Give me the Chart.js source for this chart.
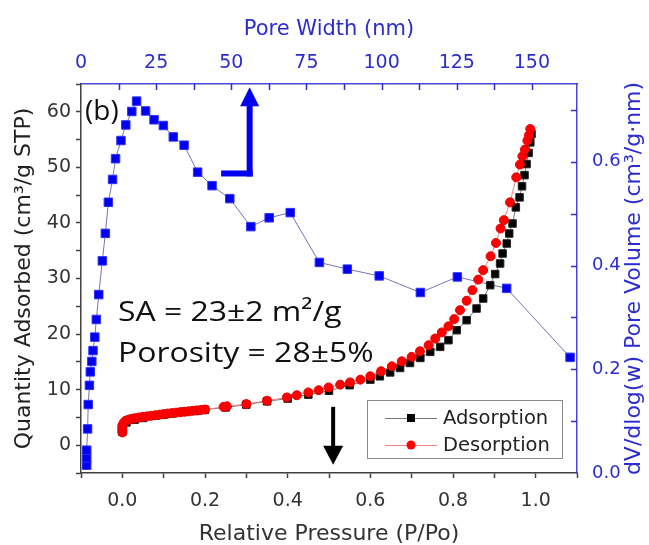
<!DOCTYPE html>
<html>
<head>
<meta charset="utf-8">
<script src="https://cdn.jsdelivr.net/npm/chart.js@4.4.1/dist/chart.umd.min.js"></script>
<style>
  html, body { margin: 0; padding: 0; background: #fff; }
  #wrap { width: 649px; height: 545px; }
</style>
</head>
<body>
<div id="wrap"><canvas id="isotherm" width="649" height="545"></canvas></div>
<script>
// Adsorption branch: relative pressure (P/Po) and quantity adsorbed (cm3/g STP)
const adsP = [0.0, 0.01, 0.03, 0.05, 0.08, 0.10, 0.12, 0.15, 0.18, 0.20, 0.25, 0.30, 0.35, 0.40,
  0.45, 0.50, 0.55, 0.60, 0.623, 0.648, 0.672, 0.696, 0.721, 0.745, 0.769, 0.789, 0.809,
  0.833, 0.857, 0.873, 0.890, 0.902, 0.914, 0.920, 0.930, 0.936, 0.944, 0.952, 0.961,
  0.967, 0.973, 0.978, 0.983, 0.987, 0.990];
const adsQ = [2.4, 4.1, 4.6, 4.9, 5.3, 5.5, 5.7, 6.0, 6.2, 6.4, 6.8, 7.3, 7.9, 8.4,
  9.1, 9.8, 10.8, 11.8, 12.4, 13.1, 13.9, 14.8, 15.7, 16.8, 17.7, 18.9, 20.7,
  22.5, 24.6, 26.4, 28.8, 30.8, 32.7, 34.5, 36.3, 38.1, 39.9, 42.8, 44.6,
  46.6, 48.6, 50.6, 52.6, 54.5, 56.0];

// Desorption branch
const desP = [0.0, 0.0, 0.0, 0.0, 0.003, 0.008, 0.015, 0.022, 0.03, 0.04, 0.05, 0.06, 0.07,
  0.08, 0.09, 0.10, 0.11, 0.12, 0.13, 0.14, 0.15, 0.16, 0.17, 0.18, 0.19, 0.20, 0.245,
  0.253, 0.30, 0.35, 0.398, 0.422, 0.45, 0.475, 0.499, 0.527, 0.551, 0.576, 0.60, 0.626,
  0.652, 0.676, 0.70, 0.72, 0.741, 0.757, 0.773, 0.789, 0.803, 0.817, 0.833, 0.847,
  0.861, 0.873, 0.891, 0.904, 0.915, 0.923, 0.938, 0.953, 0.962, 0.968, 0.974, 0.98,
  0.984, 0.987];
const desQ = [2.3, 2.7, 3.1, 3.5, 4.0, 4.4, 4.6, 4.75, 4.85, 5.0, 5.1, 5.2, 5.3,
  5.4, 5.5, 5.6, 5.7, 5.78, 5.86, 5.95, 6.02, 6.1, 6.18, 6.26, 6.34, 6.42, 6.9,
  7.0, 7.4, 8.0, 8.6, 9.0, 9.5, 9.9, 10.4, 10.9, 11.3, 11.8, 12.4, 13.3,
  14.2, 15.1, 15.9, 16.9, 18.0, 19.2, 20.3, 21.4, 22.7, 24.3, 26.0, 27.9,
  29.8, 31.5, 34.0, 36.4, 39.0, 40.5, 43.7, 48.2, 50.5, 52.0, 53.2, 54.8,
  55.8, 56.9];

// Pore size distribution: pore width (nm) and dV/dlog(w) pore volume (cm3/g.nm)
const poreWidth = [1.9, 1.9, 1.9, 2.2, 2.4, 2.8, 3.1, 3.6, 4.0, 4.6, 5.1, 5.9, 7.1, 8.1,
  9.1, 10.5, 11.5, 13.3, 14.9, 16.9, 18.5, 21.5, 24.3, 27.4, 30.7, 34.3, 38.8, 43.6,
  49.5, 56.5, 62.6, 69.6, 79.3, 88.6, 99.2, 112.9, 125.2, 141.6, 162.7];
const poreVolume = [0.015, 0.029, 0.044, 0.085, 0.132, 0.169, 0.195, 0.215, 0.236, 0.262,
  0.296, 0.344, 0.409, 0.462, 0.522, 0.566, 0.606, 0.641, 0.671, 0.697, 0.717, 0.698,
  0.681, 0.670, 0.648, 0.632, 0.580, 0.554, 0.529, 0.475, 0.492, 0.502, 0.406, 0.393,
  0.380, 0.348, 0.378, 0.356, 0.223];

const legendLabels = ['Adsorption', 'Desorption'];
const panelTag = '(b)';
const noteLines = ['SA = 23\u00b12 m\u00b2/g', 'Porosity = 28\u00b15%'];

// arrows, in bottom/left axis units
const blueArrow = { x: 0.308, xFrom: 0.239, yCorner: 48.9, yTip: 64.4 };
const blackArrow = { x: 0.51, yFrom: 6.9, yTip: -3.5 };

const BLUE = '#2c2cd0';
const AXIS_GREY = '#404040';

Chart.defaults.font.family = '"DejaVu Sans", sans-serif';

function pts(xs, ys) {
  return xs.map((x, i) => ({ x: x, y: ys[i] }));
}

const decorations = {
  id: 'decorations',
  afterDraw(chart) {
    const { ctx, chartArea: ca, scales } = chart;
    const sx = scales.x, sy = scales.y;
    ctx.save();

    // inward ticks on the top and right axes
    ctx.strokeStyle = BLUE;
    ctx.lineWidth = 1.5;
    scales.x2.ticks.forEach(t => {
      const px = Math.round(scales.x2.getPixelForValue(t.value)) + 0.5;
      if (px < ca.left + 2 || px > ca.right - 2) return;
      ctx.beginPath();
      ctx.moveTo(px, ca.top);
      ctx.lineTo(px, ca.top + 6);
      ctx.stroke();
    });
    scales.y2.ticks.forEach(t => {
      const py = Math.round(scales.y2.getPixelForValue(t.value)) + 0.5;
      if (py < ca.top + 2 || py > ca.bottom - 2) return;
      ctx.beginPath();
      ctx.moveTo(ca.right, py);
      ctx.lineTo(ca.right - 6, py);
      ctx.stroke();
    });

    // blue arrow pointing to the top axis
    const bx = sx.getPixelForValue(blueArrow.x);
    const bx0 = sx.getPixelForValue(blueArrow.xFrom);
    const by = sy.getPixelForValue(blueArrow.yCorner);
    const btip = sy.getPixelForValue(blueArrow.yTip);
    ctx.fillStyle = '#0000ee';
    ctx.fillRect(bx0, by - 3, bx - bx0 + 3, 6);
    ctx.fillRect(bx - 3, btip + 18, 6, by - btip - 18 + 3);
    ctx.beginPath();
    ctx.moveTo(bx, btip);
    ctx.lineTo(bx - 9.5, btip + 19);
    ctx.lineTo(bx + 9.5, btip + 19);
    ctx.closePath();
    ctx.fill();

    // black arrow pointing to the bottom axis
    const kx = sx.getPixelForValue(blackArrow.x);
    const ky0 = sy.getPixelForValue(blackArrow.yFrom);
    const ktip = sy.getPixelForValue(blackArrow.yTip);
    ctx.fillStyle = '#000';
    ctx.fillRect(kx - 2, ky0, 4, ktip - ky0 - 17);
    ctx.beginPath();
    ctx.moveTo(kx, ktip);
    ctx.lineTo(kx - 10, ktip - 19);
    ctx.lineTo(kx + 10, ktip - 19);
    ctx.closePath();
    ctx.fill();

    // panel tag and notes
    ctx.fillStyle = '#111';
    ctx.textBaseline = 'alphabetic';
    ctx.textAlign = 'left';
    ctx.font = '28px "Open Sans"';
    ctx.fillText(panelTag, ca.left + 4, ca.top + 36);
    ctx.font = '28px "Open Sans"';
    [321, 362].forEach((y, i) => {
      ctx.save();
      ctx.translate(ca.left + 37, y);
      ctx.scale(1.14, 1);
      ctx.fillText(noteLines[i], 0, 0);
      ctx.restore();
    });

    // legend
    const lx = ca.right - 210, ly = ca.bottom - 73, lw = 195, lh = 58;
    ctx.fillStyle = '#fff';
    ctx.fillRect(lx, ly, lw, lh);
    ctx.strokeStyle = '#8a8a8a';
    ctx.lineWidth = 1;
    ctx.strokeRect(lx + 0.5, ly + 0.5, lw, lh);
    const rows = [
      { y: ly + 18, line: '#777', fill: '#000', shape: 'rect' },
      { y: ly + 45, line: '#f08080', fill: '#f00', shape: 'circle' }
    ];
    rows.forEach((r, i) => {
      ctx.strokeStyle = r.line;
      ctx.beginPath();
      ctx.moveTo(lx + 18, r.y + 0.5);
      ctx.lineTo(lx + 70, r.y + 0.5);
      ctx.stroke();
      ctx.fillStyle = r.fill;
      if (r.shape === 'rect') {
        ctx.fillRect(lx + 40, r.y - 4, 8, 8);
      } else {
        ctx.beginPath();
        ctx.arc(lx + 44, r.y, 4.5, 0, Math.PI * 2);
        ctx.fill();
      }
      ctx.fillStyle = '#222';
      ctx.font = '19.5px "DejaVu Sans"';
      ctx.textBaseline = 'middle';
      ctx.fillText(legendLabels[i], lx + 76, r.y + 1);
    });

    // right axis title, reading upward
    ctx.save();
    ctx.translate(634, (ca.top + ca.bottom) / 2);
    ctx.rotate(-Math.PI / 2);
    ctx.fillStyle = BLUE;
    ctx.font = '22px "DejaVu Sans"';
    ctx.textAlign = 'center';
    ctx.textBaseline = 'middle';
    ctx.fillText('dV/dlog(w) Pore Volume (cm\u00b3/g\u00b7nm)', 0, 0);
    ctx.restore();

    ctx.restore();
  }
};

new Chart(document.getElementById('isotherm'), {
  type: 'scatter',
  data: {
    datasets: [
      {
        label: legendLabels[1],
        data: pts(desP, desQ),
        showLine: true,
        borderColor: '#f08080',
        borderWidth: 1,
        pointStyle: 'circle',
        pointRadius: 4.5,
        pointBackgroundColor: '#ff0000',
        pointBorderColor: '#e80000',
        pointBorderWidth: 1,
        xAxisID: 'x',
        yAxisID: 'y',
        order: 0
      },
      {
        label: legendLabels[0],
        data: pts(adsP, adsQ),
        showLine: true,
        borderColor: '#777',
        borderWidth: 1,
        pointStyle: 'rect',
        pointRadius: 5.3,
        pointBackgroundColor: '#000',
        pointBorderColor: '#222',
        pointBorderWidth: 1,
        xAxisID: 'x',
        yAxisID: 'y',
        order: 1
      },
      {
        label: 'Pore size distribution',
        data: pts(poreWidth, poreVolume),
        showLine: true,
        borderColor: '#7474b4',
        borderWidth: 1,
        pointStyle: 'rect',
        pointRadius: 6,
        pointBackgroundColor: '#0000ee',
        pointBorderColor: '#3030ff',
        pointBorderWidth: 1,
        xAxisID: 'x2',
        yAxisID: 'y2',
        order: 2
      }
    ]
  },
  options: {
    responsive: false,
    animation: false,
    events: [],
    layout: { padding: 0 },
    plugins: {
      legend: { display: false },
      tooltip: { enabled: false }
    },
    scales: {
      x: {
        type: 'linear',
        position: 'bottom',
        min: -0.1,
        max: 1.1,
        afterFit: s => { s.height = 72; },
        border: { display: true, color: AXIS_GREY, width: 1.5 },
        grid: { drawOnChartArea: false, drawTicks: true, tickLength: 5, tickColor: AXIS_GREY, tickWidth: 1.5 },
        ticks: {
          stepSize: 0.1,
          autoSkip: false,
          maxRotation: 0,
          padding: 12,
          color: '#333',
          font: { size: 19 },
          callback: v => {
            const n = Math.round(v * 10);
            return (n % 2 === 0 && n >= 0 && n <= 10) ? (n / 10).toFixed(1) : '';
          }
        },
        title: {
          display: true,
          text: 'Relative Pressure (P/Po)',
          color: '#333',
          font: { size: 22, lineHeight: 1 },
          padding: { top: 0, bottom: 0 }
        }
      },
      x2: {
        type: 'linear',
        position: 'top',
        min: 0,
        max: 165,
        afterFit: s => { s.height = 84; },
        border: { display: true, color: '#4848d8', width: 1.5 },
        grid: { display: false },
        ticks: {
          stepSize: 12.5,
          autoSkip: false,
          maxRotation: 0,
          padding: 2,
          color: BLUE,
          font: { size: 19 },
          callback: v => (v % 25 === 0 && v <= 150) ? String(v) : ''
        },
        title: {
          display: true,
          text: 'Pore Width (nm)',
          color: BLUE,
          font: { size: 21 },
          padding: { top: 17, bottom: 0 }
        }
      },
      y: {
        type: 'linear',
        position: 'left',
        min: -5,
        max: 65,
        afterFit: s => { s.width = 81; },
        border: { display: true, color: AXIS_GREY, width: 1.5 },
        grid: { drawOnChartArea: false, drawTicks: true, tickLength: 5, tickColor: AXIS_GREY, tickWidth: 1.5 },
        ticks: {
          stepSize: 5,
          autoSkip: false,
          padding: 5,
          color: '#333',
          font: { size: 19 },
          callback: v => (v % 10 === 0 && v >= 0 && v <= 60) ? String(v) : ''
        },
        title: {
          display: true,
          text: 'Quantity Adsorbed (cm\u00b3/g STP)',
          color: '#222',
          font: { size: 22 },
          padding: { top: 11, bottom: 0 }
        }
      },
      y2: {
        type: 'linear',
        position: 'right',
        min: 0,
        max: 0.75,
        afterFit: s => { s.width = 72; },
        border: { display: true, color: '#4848d8', width: 1.5 },
        grid: { display: false },
        ticks: {
          stepSize: 0.1,
          autoSkip: false,
          padding: 7,
          color: BLUE,
          font: { size: 18 },
          callback: v => {
            const n = Math.round(v * 10);
            return (Math.abs(v * 10 - n) < 1e-6 && n % 2 === 0) ? (n / 10).toFixed(1) : '';
          }
        }
      }
    }
  },
  plugins: [decorations]
});
</script>
</body>
</html>
